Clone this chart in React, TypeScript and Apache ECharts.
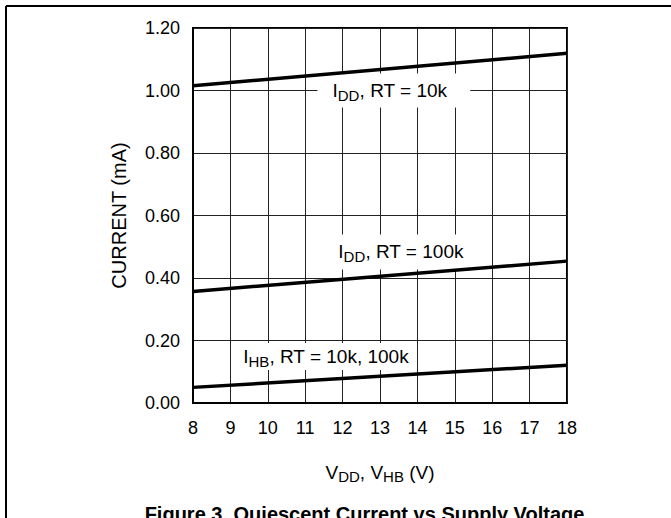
import React, { useEffect, useRef } from "react";
import * as echarts from "echarts";

const xTicks = [8, 9, 10, 11, 12, 13, 14, 15, 16, 17, 18];
const yTickLabels = ["0.00", "0.20", "0.40", "0.60", "0.80", "1.00", "1.20"];
const vdd = [8, 18];
const iddRt10k = [1.015, 1.119];
const iddRt100k = [0.357, 0.454];
const ihb = [0.05, 0.121];
const labelTexts = ["{m|I}{s|DD}{m|, RT = 10k}", "{m|I}{s|DD}{m|, RT = 100k}", "{m|I}{s|HB}{m|, RT = 10k, 100k}"];
const labelAt = [
  [13.37, 1.0],
  [13.56, 0.483],
  [11.556, 0.149],
];

const FONT = "'Liberation Sans', Arial, Helvetica, sans-serif";

const rich = {
  m: { fontSize: 19, fontFamily: FONT, color: "#000", lineHeight: 24, verticalAlign: "middle" },
  s: { fontSize: 15, fontFamily: FONT, color: "#000", lineHeight: 24, verticalAlign: "bottom" },
};

const labelPads = [
  [5, 23, 5, 15],
  [5, 12, 6, 12],
  [2, 5, 1, 5],
];

function mk(i: number) {
  return {
    z: 1,
    silent: true,
    symbol: "rect",
    symbolSize: 0,
    data: [
      {
        coord: labelAt[i],
        label: {
          show: true,
          position: "inside",
          formatter: labelTexts[i],
          backgroundColor: "#fff",
          padding: labelPads[i],
          rich,
        },
      },
    ],
  };
}

export default function App() {
  const ref = useRef<HTMLDivElement>(null);
  useEffect(() => {
    document.body.style.margin = "0";
    const chart = echarts.init(ref.current!, undefined, { renderer: "svg" });
    const pair = (ys: number[]) => vdd.map((x, i) => [x, ys[i]]);
    const lineStyle = { color: "#000", width: 3.5 };
    chart.setOption({
      animation: false,
      grid: { left: 193, top: 28, width: 374, height: 375, show: true, borderColor: "#000", borderWidth: 2, backgroundColor: "transparent" },
      xAxis: {
        type: "value",
        z: 0,
        min: xTicks[0],
        max: xTicks[xTicks.length - 1],
        interval: 1,
        axisLine: { show: true, lineStyle: { color: "#000", width: 2 } },
        axisTick: { show: false },
        splitLine: { show: true, lineStyle: { color: "#222", width: 1 } },
        axisLabel: { color: "#000", fontSize: 18, fontFamily: FONT, margin: 16 },
        name: "{m|V}{s|DD}{m|, V}{s|HB}{m| (V)}",
        nameLocation: "middle",
        nameGap: 57,
        nameTextStyle: { rich },
      },
      yAxis: {
        type: "value",
        z: 0,
        min: 0,
        max: 1.2,
        interval: 0.2,
        axisLine: { show: true, lineStyle: { color: "#000", width: 2 } },
        axisTick: { show: false },
        splitLine: { show: true, lineStyle: { color: "#222", width: 1 } },
        axisLabel: {
          color: "#000",
          fontSize: 18,
          fontFamily: FONT,
          margin: 13,
          formatter: (v: number) => yTickLabels[Math.round(v / 0.2)] ?? v.toFixed(2),
        },
        name: "CURRENT (mA)",
        nameLocation: "middle",
        nameGap: 64,
        nameTextStyle: { color: "#000", fontSize: 20, fontFamily: FONT },
      },
      series: [
        { type: "line", z: 3, data: pair(iddRt10k), symbol: "none", lineStyle, markPoint: mk(0) },
        { type: "line", z: 3, data: pair(iddRt100k), symbol: "none", lineStyle, markPoint: mk(1) },
        { type: "line", z: 3, data: pair(ihb), symbol: "none", lineStyle, markPoint: mk(2) },
      ],
      graphic: [
        { type: "line", shape: { x1: 6, y1: 6, x2: 671, y2: 6 }, style: { stroke: "#000", lineWidth: 2 } },
        { type: "line", shape: { x1: 6, y1: 6, x2: 6, y2: 518 }, style: { stroke: "#000", lineWidth: 2 } },
        {
          type: "text",
          x: 364.5,
          y: 514,
          style: {
            text: "Figure 3. Quiescent Current vs Supply Voltage",
            fontSize: 20,
            fontWeight: "bold",
            fontFamily: FONT,
            fill: "#000",
            align: "center",
            verticalAlign: "middle",
          },
        },
      ],
    });
    return () => chart.dispose();
  }, []);
  return <div ref={ref} style={{ width: 671, height: 518 }} />;
}
